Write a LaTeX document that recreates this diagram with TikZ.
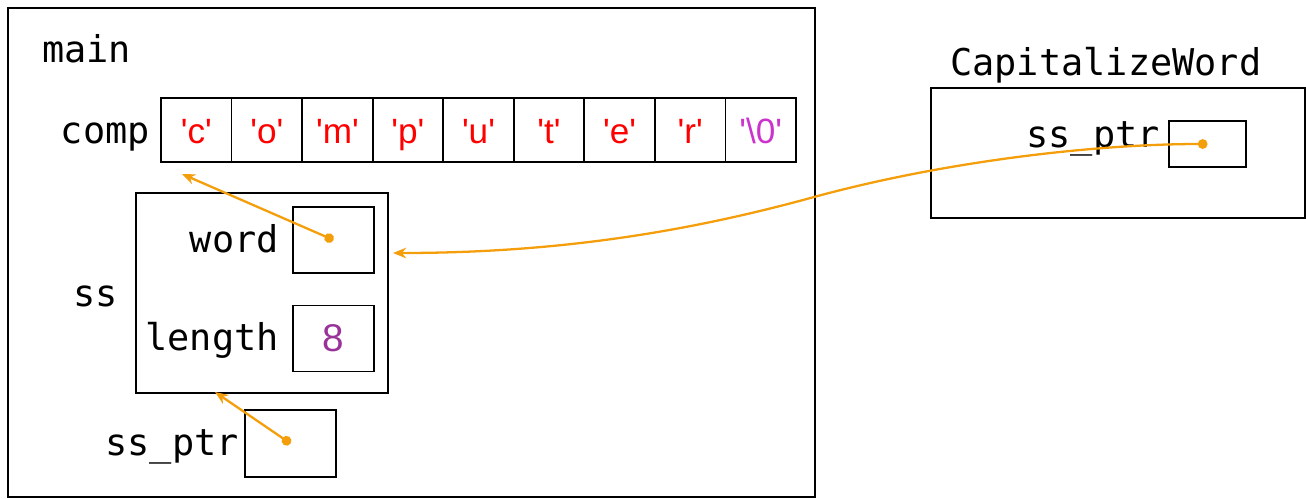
\documentclass[tikz,border=0pt]{standalone}
\usepackage{fontspec}
\setmainfont{Liberation Sans}
\setmonofont{DejaVu Sans Mono}
\usepackage{xcolor}
\usetikzlibrary{positioning, arrows.meta, calc}

\definecolor{ptrorange}{RGB}{245,158,11}
\definecolor{charred}{RGB}{255,0,0}
\definecolor{nullpink}{RGB}{204,51,204}
\definecolor{numpurple}{RGB}{153,51,153}

\begin{document}
\begin{tikzpicture}[
  x=0.02cm, y=-0.02cm,
  lbl/.style={inner sep=0pt, font=\ttfamily\fontsize{21}{24}\selectfont},
  frame/.style={draw, line width=1pt, inner sep=0pt},
  cell/.style={draw, line width=1pt, minimum width=1.41cm, minimum height=1.28cm,
               inner sep=0pt, text height=15pt, text depth=0pt,
               font=\fontsize{20}{22}\selectfont, text=charred},
  slot/.style={draw, line width=1pt, inner sep=0pt},
  ptr/.style={{Circle[length=5.5pt]}-{Stealth[length=7.5pt, width=6pt]}, line width=1.3pt, ptrorange}
]
\useasboundingbox (0,0) rectangle (1306,498);

%% main frame
\node[frame, minimum width=16.14cm, minimum height=9.78cm] (mainframe) at (411.5,252.5) {};
\node[lbl, anchor=base west] (mainlbl) at (42,62) {main};

%% comp array
\foreach \ch [count=\i] in {c,o,m,p,u,t,e,r}
  \node[cell] (c\i) at ({196.3+(\i-1)*70.55},130) {\textquotesingle\ch\textquotesingle};
\node[cell, text=nullpink] (c9) at ({196.3+8*70.55},130) {\textquotesingle\textbackslash0\textquotesingle};
\node[lbl, anchor=base east] (complbl) at (150,143) {comp};

%% struct ss
\node[frame, minimum width=5.04cm, minimum height=4cm] (ss) at (262,293) {};
\node[lbl, anchor=base east] (sslbl) at (118,306) {ss};
\node[slot, minimum width=1.62cm, minimum height=1.32cm] (word) at (333.5,240) {};
\node[lbl, anchor=base east] (wordlbl) at (279,252) {word};
\node[slot, minimum width=1.62cm, minimum height=1.32cm, text=numpurple,
      font=\fontsize{22}{24}\selectfont] (length) at (333.5,338.5) {8};
\node[lbl, anchor=base east] (lengthlbl) at (279,350) {length};

%% ss_ptr in main
\node[slot, minimum width=1.82cm, minimum height=1.34cm] (ssptr) at (290.5,443.5) {};
\node[lbl, anchor=base east] (ssptrlbl) at (239,455) {ss\_ptr};

%% CapitalizeWord frame
\node[frame, minimum width=7.48cm, minimum height=2.6cm] (cwframe) at (1118,153) {};
\node[lbl, anchor=base west] (cwlbl) at (950,75) {CapitalizeWord};
\node[slot, minimum width=1.54cm, minimum height=0.92cm] (cwptr) at (1207.5,144) {};
\node[lbl, anchor=base east] (cwptrlbl) at (1160,147) {ss\_ptr};

%% ---- Pointers ----
\coordinate (compend) at (182,174);
\coordinate (ssend) at (215,392);
\coordinate (ssside) at (393,253);

% word -> comp
\draw[ptr] (word.center) -- (compend);

% ss_ptr -> ss
\draw[ptr] (ssptr.center) -- (ssend);

% CapitalizeWord ss_ptr -> ss
\draw[ptr] (cwptr.center) .. controls (1100,144) and (950,160) .. (814,197)
  .. controls (680,234) and (550,253) .. (ssside);

\end{tikzpicture}
\end{document}
